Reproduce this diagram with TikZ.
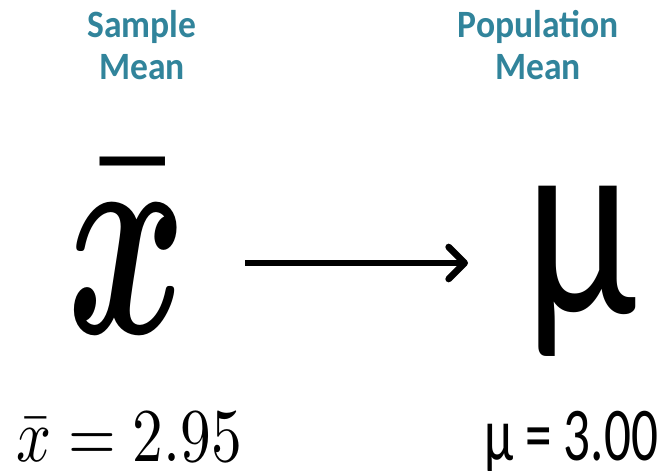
\documentclass[tikz,border=0pt]{standalone}
\usepackage{bm}
\usepackage{fontspec}
\newfontfamily\carlito{Carlito}
\usetikzlibrary{arrows.meta}
\definecolor{headteal}{HTML}{31849B}
\tikzset{
  heading/.style={text=headteal,align=center,inner sep=0pt,xscale=0.92,
    font=\carlito\bfseries\fontsize{29}{31.5}\selectfont},
  bigarrow/.style={line width=5pt,-{Straight Barb[length=12pt,width=24pt,round]}}
}
\begin{document}
\begin{tikzpicture}[x=0.75pt,y=-0.75pt]
\useasboundingbox (0,0) rectangle (672,471);
\node[heading] (sample) at (142,45) {Sample\\Mean};
\node[heading] (population) at (538,45) {Population\\Mean};
\node[anchor=base,inner sep=0pt,xscale=13.6,yscale=21.8] (xbar) at (127,333) {$\bm{\bar{x}}$};
\node[anchor=base,inner sep=0pt,xscale=0.76,font=\carlito\fontsize{200}{200}\selectfont] (mu) at (581,313) {μ};
\coordinate (arrowtail) at (245,263);
\coordinate (arrowtip) at (468,263);
\draw[bigarrow] (arrowtail) -- (arrowtip);
\node[anchor=base west,inner sep=0pt,xscale=4.6,yscale=5.7] (xbarval) at (15,461) {$\bar{x} = 2.95$};
\node[anchor=base west,inner sep=0pt,xscale=0.70,font=\carlito\fontsize{57}{60}\selectfont] (muval) at (484,460) {μ = 3.00};
\end{tikzpicture}
\end{document}
